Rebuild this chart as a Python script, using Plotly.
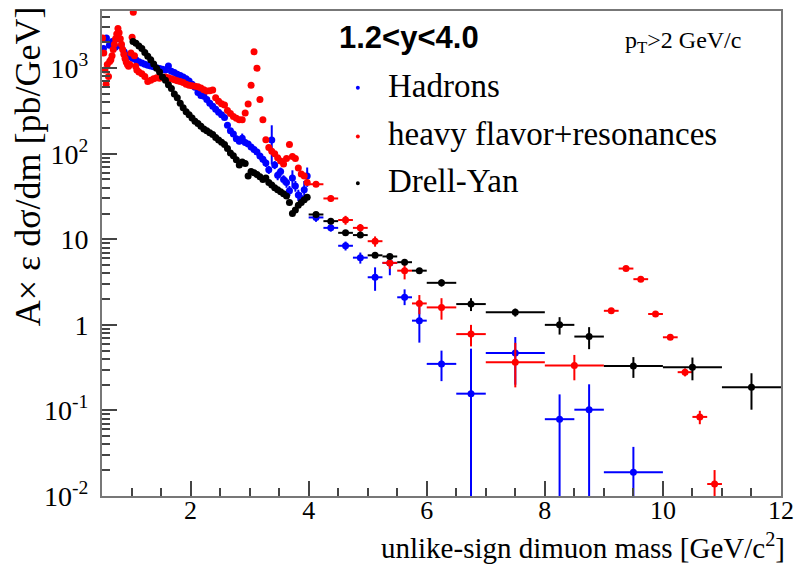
import plotly.graph_objects as go

# ---------------- data ----------------
# Hadrons (blue): 50 MeV bins below 4 GeV/c^2
hadron_fine_m = [0.525, 0.575, 0.625, 0.675, 0.725, 0.775, 0.825, 0.875, 0.925, 0.975,
                 1.025, 1.075, 1.125, 1.175, 1.225, 1.275, 1.325, 1.375, 1.425, 1.475,
                 1.525, 1.575, 1.625, 1.675, 1.725, 1.775, 1.825, 1.875, 1.925, 1.975,
                 2.025, 2.075, 2.125, 2.175, 2.225, 2.275, 2.325, 2.375, 2.425, 2.475,
                 2.525, 2.575, 2.625, 2.675, 2.725, 2.775, 2.825, 2.875, 2.925, 2.975,
                 3.025, 3.075, 3.125, 3.175, 3.225, 3.275, 3.325, 3.375, 3.425, 3.475,
                 3.525, 3.575, 3.625, 3.675, 3.725, 3.775, 3.825, 3.875, 3.925, 3.975]
hadron_fine_y = [1700, 2250, 1850, 2050, 1750, 2200, 1800, 1550, 1420, 1350,
                 1300, 1250, 1190, 1150, 1110, 1080, 1060, 1040, 1010, 990,
                 970, 950, 1060, 920, 890, 850, 820, 790, 750, 710,
                 650, 600, 520, 480, 470, 430, 390, 360, 330, 305,
                 285, 265, 215, 185, 170, 150, 140, 152, 135, 130,
                 120, 112, 105, 94, 86, 78, 65, 145, 74, 56,
                 62, 50, 46, 37, 52, 42, 33, 30, 38, 55]
hadron_fine_err = [90, 110, 95, 100, 90, 110, 90, 80, 70, 65,
                   60, 55, 50, 50, 45, 45, 45, 45, 40, 40,
                   40, 40, 80, 35, 35, 35, 35, 35, 30, 30,
                   30, 30, 25, 25, 25, 25, 22, 22, 20, 20,
                   18, 17, 15, 13, 12, 12, 11, 20, 11, 10,
                   10, 10, 9, 8, 8, 8, 7, 70, 8, 7,
                   7, 6, 6, 5, 12, 6, 5, 5, 10, 14]
# Hadrons, wide bins above 4 GeV/c^2
hadron_m = [4.125, 4.375, 4.625, 4.875, 5.125, 5.375, 5.625, 5.875, 6.25, 6.75, 7.5, 8.25, 8.75, 9.5]
hadron_dm = [0.125, 0.125, 0.125, 0.125, 0.125, 0.125, 0.125, 0.125, 0.25, 0.25, 0.5, 0.25, 0.25, 0.5]
hadron_y = [18, 13.6, 8.4, 6.1, 3.6, 5.3, 2.1, 1.12, 0.35, 0.157, 0.47, 0.079, 0.102, 0.019]
hadron_err_up = [2, 1.3, 1.0, 0.9, 1.1, 1.5, 0.5, 0.5, 0.15, 0.37, 0.25, 0.075, 0.1, 0.0185]
hadron_err_dn = [2, 1.3, 1.0, 0.9, 1.1, 1.5, 0.4, 0.5, 0.13, 0.15, 0.27, 0.075, 0.1, 0.0185]

# Heavy flavor + resonances (red)
hf_fine_m = [0.51, 0.53, 0.55, 0.57, 0.59, 0.61, 0.63, 0.65, 0.67, 0.69,
             0.71, 0.73, 0.75, 0.77, 0.79, 0.81, 0.83, 0.85, 0.87, 0.89,
             0.91, 0.93, 0.95, 0.97, 0.99, 1.01, 1.03, 1.05, 1.07, 1.09,
             1.125, 1.175, 1.225, 1.275, 1.325, 1.375, 1.425, 1.475,
             1.525, 1.575, 1.625, 1.675, 1.725, 1.775, 1.825, 1.875, 1.925, 1.975,
             2.025, 2.075, 2.125, 2.175, 2.225, 2.275, 2.325, 2.375, 2.425, 2.475,
             2.525, 2.575, 2.625, 2.675, 2.725, 2.775, 2.825, 2.875, 2.925, 2.975,
             3.025, 3.075, 3.125, 3.175, 3.225, 3.275, 3.325, 3.375, 3.425, 3.475,
             3.525, 3.575, 3.625, 3.675, 3.725, 3.775, 3.825, 3.875, 3.925, 3.975]
hf_fine_y = [2250, 1500, 950, 650, 1100, 800, 1200, 1250, 1400, 1650,
             1900, 2200, 2500, 2900, 2600, 2200, 1900, 1650, 1450, 1300,
             1180, 1100, 1050, 1100, 1500, 2300, 4500, 1400, 1050, 950,
             900, 860, 800, 700, 720, 750, 770, 760,
             780, 790, 770, 750, 730, 715, 700, 680, 650, 630,
             625, 615, 605, 585, 560, 540, 545, 555, 450, 410,
             385, 370, 320, 295, 272, 260, 250, 250, 300, 380,
             630, 1550, 1000, 430, 250, 146, 118, 107, 100, 90,
             82, 76, 88, 128, 93, 88, 68, 58, 55, 46]
hf_m = [4.125, 4.375, 4.625, 4.875, 5.125, 5.375, 5.625, 5.875, 6.25, 6.75, 7.5, 8.5,
        9.125, 9.375, 9.625, 9.875, 10.125, 10.375, 10.625, 10.875]
hf_dm = [0.125, 0.125, 0.125, 0.125, 0.125, 0.125, 0.125, 0.125, 0.25, 0.25, 0.5, 0.5,
         0.125, 0.125, 0.125, 0.125, 0.125, 0.125, 0.125, 0.125]
hf_y = [44, 30, 16.8, 13.6, 9.5, 5.3, 4.3, 1.78, 1.6, 0.78, 0.366, 0.335,
        1.46, 4.55, 3.42, 1.34, 0.716, 0.28, 0.084, 0.0138]
hf_err_up = [3, 2.5, 2, 1.5, 1.3, 0.8, 0.9, 0.45, 0.45, 0.22, 0.25, 0.11,
             0.1, 0.25, 0.2, 0.08, 0.05, 0.03, 0.015, 0.0063]
hf_err_dn = [3, 2.5, 2, 1.5, 1.3, 0.8, 0.9, 0.45, 0.45, 0.22, 0.18, 0.11,
             0.1, 0.25, 0.2, 0.08, 0.05, 0.03, 0.015, 0.006]

# Drell-Yan (black)
dy_fine_m = [1.025, 1.075, 1.125, 1.175, 1.225, 1.275, 1.325, 1.375, 1.425, 1.475,
             1.525, 1.575, 1.625, 1.675, 1.725, 1.775, 1.825, 1.875, 1.925, 1.975,
             2.025, 2.075, 2.125, 2.175, 2.225, 2.275, 2.325, 2.375, 2.425, 2.475,
             2.525, 2.575, 2.625, 2.675, 2.725, 2.775, 2.825, 2.875, 2.925, 2.975,
             3.025, 3.075, 3.125, 3.175, 3.225, 3.275, 3.325, 3.375, 3.425, 3.475,
             3.525, 3.575, 3.625, 3.675, 3.725, 3.775, 3.825, 3.875, 3.925, 3.975]
dy_fine_y = [2050, 1950, 1820, 1700, 1520, 1380, 1250, 1120, 1000, 900,
             790, 720, 640, 580, 500, 450, 390, 345, 310, 285,
             262, 240, 225, 210, 195, 185, 176, 168, 155, 145,
             136, 128, 115, 102, 95, 85, 74, 80, 77, 55,
             62, 60, 57, 54, 50, 52, 46, 43, 40, 38,
             36, 34, 32, 27, 20, 22, 25, 27, 29, 31]
dy_m = [4.125, 4.375, 4.625, 4.875, 5.125, 5.375, 5.625, 5.875, 6.25, 6.75, 7.5, 8.25, 8.75, 9.5, 10.5, 11.5]
dy_dm = [0.125, 0.125, 0.125, 0.125, 0.125, 0.125, 0.125, 0.125, 0.25, 0.25, 0.5, 0.25, 0.25, 0.5, 0.5, 0.5]
dy_y = [19.5, 16.3, 11.9, 11.2, 6.5, 6.3, 5.4, 4.3, 3.1, 1.75, 1.4, 1.0, 0.73, 0.33, 0.32, 0.187]
dy_err = [0.8, 0.7, 0.6, 0.6, 0.4, 0.4, 0.35, 0.3, 0.3, 0.3, 0.15, 0.23, 0.21, 0.09, 0.095, 0.085]

legend_labels = ["Hadrons", "heavy flavor+resonances", "Drell-Yan"]
colors = ["#0000ff", "#ff0000", "#000000"]

# ---------------- figure ----------------
W, H = 803, 567
L, R, T, B = 102, 11, 9, 71
SERIF = "Liberation Serif, Times New Roman, serif"


def px_x(p):
    return (p - L) / (W - L - R)


def px_y(p):
    return (H - B - p) / (H - T - B)


fig = go.Figure()


def add_series(fine_m, fine_y, fine_err, m, dm, y, up, dn, color, name):
    fig.add_trace(go.Scatter(
        x=list(fine_m) + list(m),
        y=list(fine_y) + list(y),
        mode="markers",
        name=name,
        marker=dict(color=color, size=7, symbol="circle", line=dict(width=0)),
        error_x=dict(type="data", array=[0] * len(fine_m) + list(dm),
                     color=color, thickness=2, width=0),
        error_y=dict(type="data", array=list(fine_err) + list(up),
                     arrayminus=list(fine_err) + list(dn),
                     color=color, thickness=2, width=0),
        showlegend=False,
    ))


add_series(hadron_fine_m, hadron_fine_y, hadron_fine_err, hadron_m, hadron_dm,
           hadron_y, hadron_err_up, hadron_err_dn, colors[0], legend_labels[0])
add_series(hf_fine_m, hf_fine_y, [0] * len(hf_fine_m), hf_m, hf_dm,
           hf_y, hf_err_up, hf_err_dn, colors[1], legend_labels[1])
add_series(dy_fine_m, dy_fine_y, [0] * len(dy_fine_m), dy_m, dy_dm,
           dy_y, dy_err, dy_err, colors[2], legend_labels[2])

y_major = [0.01, 0.1, 1, 10, 100, 1000]
y_text = ["10<sup>-2</sup>", "10<sup>-1</sup>", "1", "10", "10<sup>2</sup>", "10<sup>3</sup>"]
y_minor = [k * 10 ** e for e in range(-2, 4) for k in range(2, 10)]

fig.update_xaxes(
    range=[0.5, 12], tickmode="linear", tick0=0, dtick=2,
    ticks="inside", ticklen=15, tickwidth=1.5, tickcolor="#444",
    minor=dict(tick0=0, dtick=0.5, ticks="inside", ticklen=8, tickwidth=1.5, tickcolor="#444"),
    showline=True, linecolor="#777", linewidth=2, mirror=True,
    showgrid=False, zeroline=False,
    tickfont=dict(family=SERIF, size=26, color="black"),
    ticklabelstandoff=-10, ticklabeloverflow="allow",
)
fig.update_yaxes(
    type="log", range=[-2, 3.668],
    tickmode="array", tickvals=y_major, ticktext=y_text,
    ticks="inside", ticklen=15, tickwidth=1.5, tickcolor="#444",
    minor=dict(tickmode="array", tickvals=y_minor, ticks="inside", ticklen=8,
               tickwidth=1.5, tickcolor="#444"),
    showline=True, linecolor="#777", linewidth=2, mirror=True,
    showgrid=False, zeroline=False,
    tickfont=dict(family=SERIF, size=28, color="black"),
    ticklabelstandoff=6, ticklabeloverflow="allow",
)

annotations = [
    dict(text="A\u00d7 \u03b5 d\u03c3/dm [pb/GeV]", textangle=-90,
         x=px_x(27), y=px_y(2), xanchor="center", yanchor="top",
         font=dict(family=SERIF, size=36, color="black")),
    dict(text="unlike-sign dimuon mass [GeV/c<sup>2</sup>]",
         x=px_x(798), y=px_y(546), xanchor="right", yanchor="middle",
         font=dict(family=SERIF, size=29, color="black")),
    dict(text="<b>1.2&lt;y&lt;4.0</b>",
         x=px_x(341), y=px_y(36), xanchor="left", yanchor="middle",
         font=dict(family="Liberation Sans, Arial, sans-serif", size=31, color="black")),
    dict(text="p<sub>T</sub>&gt;2 GeV/c",
         x=px_x(631), y=px_y(40), xanchor="left", yanchor="middle",
         font=dict(family=SERIF, size=24, color="black")),
]
shapes = []
legend_rows = [86, 135, 182]
for label, color, row in zip(legend_labels, colors, legend_rows):
    annotations.append(dict(text=label, x=px_x(391), y=px_y(row - 2),
                            xanchor="left", yanchor="middle",
                            font=dict(family=SERIF, size=33, color="black")))
    shapes.append(dict(type="circle", xref="paper", yref="paper",
                       x0=px_x(360), x1=px_x(364), y0=px_y(row + 2), y1=px_y(row - 2),
                       fillcolor=color, line=dict(width=0)))

for a in annotations:
    a.update(xref="paper", yref="paper", showarrow=False)

fig.update_layout(
    width=W, height=H, autosize=False,
    margin=dict(l=L, r=R, t=T, b=B),
    paper_bgcolor="white", plot_bgcolor="white",
    font=dict(family=SERIF, color="black"),
    showlegend=False,
    annotations=annotations,
    shapes=shapes,
)

# the page body has a default 8px margin; drop it so the figure sits at the window origin
fig.write_html(
    "out.html",
    config={"displayModeBar": False, "displaylogo": False},
    post_script="document.body.style.margin='0';",
)
